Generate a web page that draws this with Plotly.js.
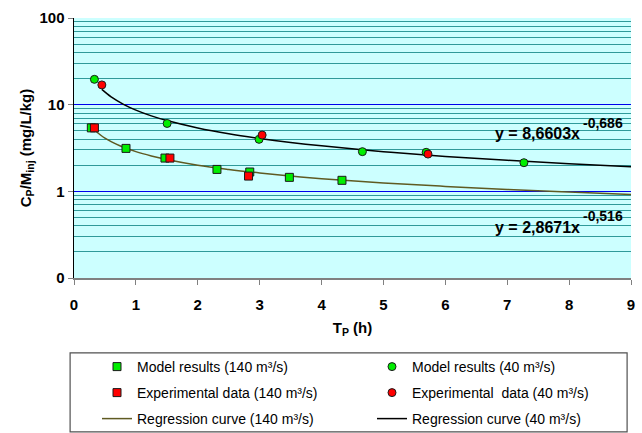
<!DOCTYPE html>
<html>
<head>
<meta charset="utf-8">
<script src="https://cdn.plot.ly/plotly-3.0.1.min.js"></script>
<style>html,body{margin:0;padding:0;background:#fff;}#chart{width:642px;height:433px;}</style>
</head>
<body>
<div id="chart"></div>
<script>
// Model results, 140 m3/s (green squares)
var model140X = [0.28, 0.84, 1.47, 2.31, 2.84, 3.48, 4.33];
var model140Y = [5.4, 3.13, 2.42, 1.79, 1.67, 1.45, 1.34];
// Experimental data, 140 m3/s (red squares)
var exp140X = [0.33, 1.55, 2.82];
var exp140Y = [5.4, 2.42, 1.50];
// Model results, 40 m3/s (green circles)
var model40X = [0.33, 1.505, 2.99, 4.66, 5.69, 7.27];
var model40Y = [19.6, 6.07, 3.98, 2.87, 2.82, 2.14];
// Experimental data, 40 m3/s (red circles)
var exp40X = [0.45, 3.04, 5.72];
var exp40Y = [16.9, 4.46, 2.69];
// Regression curves
var reg140X = [0.33, 0.5, 0.75, 1, 1.25, 1.5, 2, 2.5, 3, 3.5, 4, 5, 6, 7, 8, 9];
var reg140Y = [5.1, 4.1, 3.33, 2.87, 2.56, 2.33, 2.0, 1.79, 1.63, 1.5, 1.4, 1.25, 1.14, 1.05, 0.98, 0.92];
var reg40X = [0.45, 0.6, 0.8, 1, 1.25, 1.5, 2, 2.5, 3, 3.5, 4, 5, 6, 7, 8, 9];
var reg40Y = [15.0, 12.3, 10.1, 8.66, 7.43, 6.56, 5.39, 4.62, 4.08, 3.67, 3.35, 2.87, 2.53, 2.28, 2.08, 1.92];
// Axis ticks
var yTickVals = [0.1, 1, 10, 100];
var yTickText = ['0', '1', '10', '100'];
var xTickVals = [0, 1, 2, 3, 4, 5, 6, 7, 8, 9];
// Equation texts
var eq40Main = 'y = 8,6603x', eq40Exp = '-0,686';
var eq140Main = 'y = 2,8671x', eq140Exp = '-0,516';

var FONT = 'Arial, "Liberation Sans", sans-serif';
var sq = {symbol: 'square', size: 8, line: {color: '#1a1a1a', width: 1}};
var ci = {symbol: 'circle', size: 8, line: {color: '#1a1a1a', width: 1}};

var traces = [
  {x: reg140X, y: reg140Y, mode: 'lines', line: {color: '#5f5a22', width: 1.5, shape: 'spline'},
   name: 'Regression curve (140 m³/s)', legend: 'legend5'},
  {x: reg40X, y: reg40Y, mode: 'lines', line: {color: '#000000', width: 1.5, shape: 'spline'},
   name: 'Regression curve (40 m³/s)', legend: 'legend6'},
  {x: model140X, y: model140Y, mode: 'markers', marker: Object.assign({color: '#00ee00'}, sq),
   name: 'Model results (140 m³/s)', legend: 'legend'},
  {x: model40X, y: model40Y, mode: 'markers', marker: Object.assign({color: '#00ee00'}, ci),
   name: 'Model results (40 m³/s)', legend: 'legend2'},
  {x: exp140X, y: exp140Y, mode: 'markers', marker: Object.assign({color: '#ff0000'}, sq),
   name: 'Experimental data (140 m³/s)', legend: 'legend3'},
  {x: exp40X, y: exp40Y, mode: 'markers', marker: Object.assign({color: '#ff0000'}, ci),
   name: 'Experimental  data (40 m³/s)', legend: 'legend4'}
];

// legend positions in container fractions
function leg(x, y) {
  return {orientation: 'h', xref: 'container', yref: 'container', x: x, xanchor: 'left', y: y, yanchor: 'middle',
    bgcolor: 'rgba(0,0,0,0)', borderwidth: 0,
    font: {family: FONT, size: 14, color: '#000'}, itemclick: false};
}
var col1 = 97 / 642, col2 = 372 / 642;
var row1 = 1 - 367 / 433, row2 = 1 - 393 / 433, row3 = 1 - 419 / 433;

function ann(text, x, y, xanchor, size) {
  return {text: text, xref: 'paper', yref: 'paper', x: x, y: y, xanchor: xanchor, yanchor: 'middle',
    showarrow: false, font: {family: FONT, size: size, weight: 'bold', color: '#000'}};
}

var layout = {
  width: 642, height: 433,
  margin: {l: 74, r: 11, t: 18, b: 155},
  paper_bgcolor: '#ffffff',
  plot_bgcolor: '#ccffff',
  font: {family: FONT, color: '#000'},
  showlegend: true,
  legend: leg(col1, row1), legend2: leg(col2, row1),
  legend3: leg(col1, row2), legend4: leg(col2, row2),
  legend5: leg(col1, row3), legend6: leg(col2, row3),
  xaxis: {
    range: [0, 9], tickvals: xTickVals, ticks: 'outside', ticklen: 5, tickcolor: '#808080', tickwidth: 1,
    ticklabelstandoff: 7,
    showgrid: false, zeroline: false, showline: true, linecolor: '#808080', linewidth: 2,
    tickfont: {family: FONT, size: 15, weight: 'bold', color: '#000'},
    title: {text: 'T<sub>P</sub> (h)', font: {family: FONT, size: 15, weight: 'bold', color: '#000'}, standoff: 10}
  },
  yaxis: {
    type: 'log', range: [-1, 2], tickvals: yTickVals, ticktext: yTickText,
    ticks: 'outside', ticklen: 5, tickcolor: '#808080', tickwidth: 1,
    showgrid: true, gridcolor: '#0000ee', gridwidth: 1,
    minor: {showgrid: true, gridcolor: '#2f9a9a', gridwidth: 1, dtick: 'D1', ticks: ''},
    zeroline: false, showline: true, linecolor: '#000000', linewidth: 1.5,
    tickfont: {family: FONT, size: 15, weight: 'bold', color: '#000'},
    title: {text: 'C<sub>P</sub>/M<sub>inj</sub> (mg/L/kg)', font: {family: FONT, size: 15, weight: 'bold', color: '#000'}, standoff: 4}
  },
  annotations: [
    ann(eq40Main, 0.912, 0.554, 'right', 16),
    ann(eq40Exp, 0.910, 0.596, 'left', 14),
    ann(eq140Main, 0.912, 0.196, 'right', 16),
    ann(eq140Exp, 0.910, 0.238, 'left', 14)
  ],
  shapes: [
    {type: 'rect', xref: 'paper', yref: 'paper', x0: -0.007, x1: 0.993, y0: -0.592, y1: -0.288,
     line: {color: '#505050', width: 1.2}, fillcolor: 'rgba(0,0,0,0)', layer: 'above'}
  ]
};

Plotly.newPlot('chart', traces, layout, {staticPlot: true, displayModeBar: false});
</script>
</body>
</html>
